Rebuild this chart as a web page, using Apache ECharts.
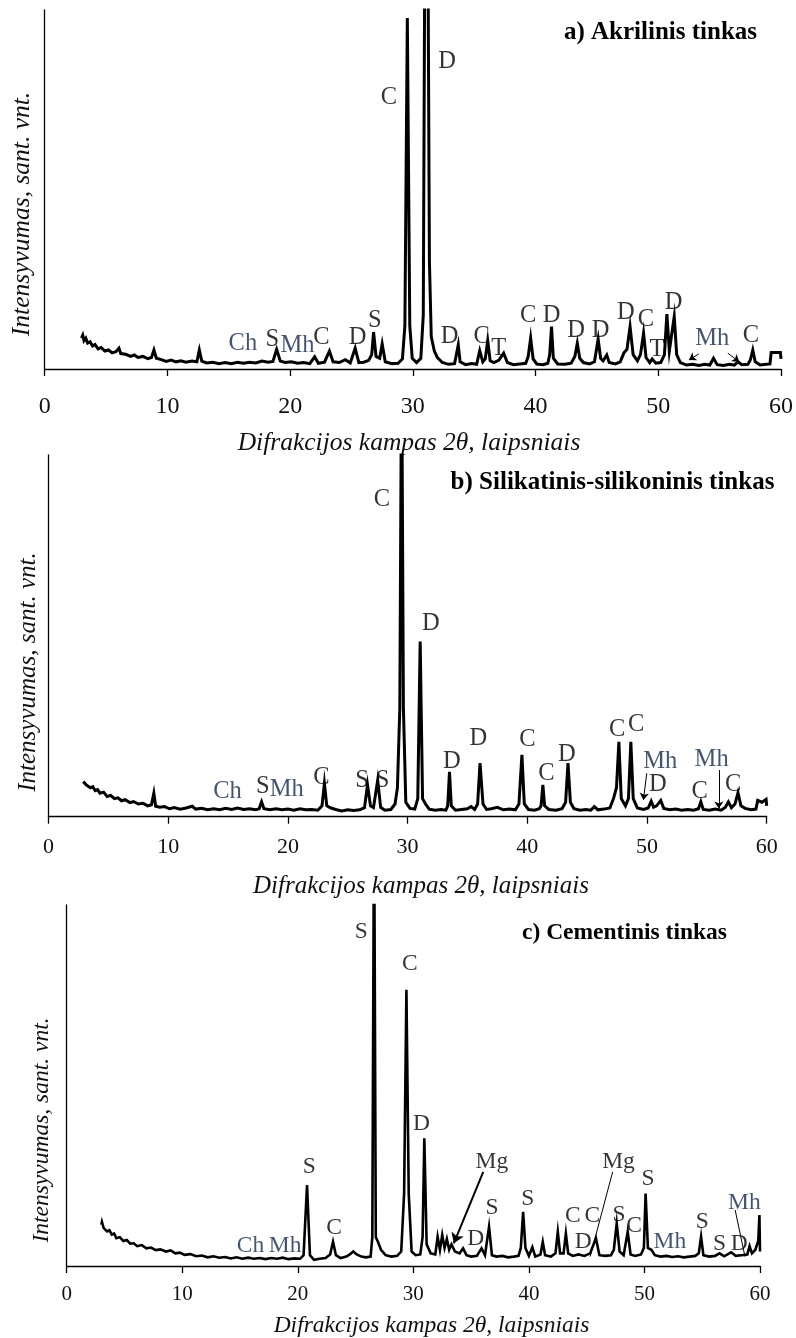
<!DOCTYPE html>
<html>
<head>
<meta charset="utf-8">
<script src="https://cdn.jsdelivr.net/npm/echarts@6.0.0/dist/echarts.min.js"></script>
<style>
html,body{margin:0;padding:0;background:#fff}
#chart{width:796px;height:1338px}
</style>
</head>
<body>
<div id="chart"></div>
<script>
// X-ray diffraction patterns of three plaster types, 2θ (deg) vs relative intensity (0–100 = plot height)
const angleTicks = [0, 10, 20, 30, 40, 50, 60];

const panelTitles = ['a) Akrilinis tinkas', 'b) Silikatinis-silikoninis tinkas', 'c) Cementinis tinkas'];
const xTitle = 'Difrakcijos kampas 2θ, laipsniais';
const yTitle = 'Intensyvumas, sant. vnt.';

// a) acrylic plaster
const traceA = [[3.0,8.6],[3.1,9.4],[3.2,7.9],[3.35,8.6],[3.5,7.2],[3.7,7.6],[3.9,6.4],[4.1,6.8],[4.35,5.6],[4.6,6.0],[4.9,5.0],[5.2,5.3],[5.5,4.5],[5.8,4.8],[6.05,5.8],[6.2,4.3],[6.6,4.1],[7.0,3.5],[7.3,3.9],[7.6,3.2],[8.0,3.5],[8.4,2.9],[8.7,3.2],[8.9,5.3],[9.1,3.0],[9.5,2.6],[9.9,2.1],[10.3,2.5],[10.7,2.0],[11.1,2.3],[11.5,1.9],[12.0,2.2],[12.4,2.0],[12.6,5.3],[12.8,2.2],[13.2,1.7],[13.7,1.9],[14.2,1.5],[14.7,1.8],[15.2,1.5],[15.7,1.9],[16.2,1.6],[16.7,1.9],[17.2,1.7],[17.7,2.2],[18.2,1.9],[18.6,2.1],[18.9,5.5],[19.2,2.2],[19.6,1.8],[20.1,2.0],[20.6,1.6],[21.1,1.8],[21.6,1.5],[22.0,3.4],[22.3,1.6],[22.8,1.9],[23.2,5.0],[23.5,2.0],[24.0,1.8],[24.5,2.6],[24.9,1.7],[25.3,5.8],[25.6,1.8],[26.0,1.9],[26.4,2.4],[26.65,4],[26.8,10.3],[27.0,3.5],[27.3,3],[27.5,7.0],[27.75,2.0],[28.3,1.5],[28.8,1.6],[29.15,2.8],[29.35,12],[29.55,97.8],[29.75,12],[29.95,3],[30.3,1.8],[30.65,3.0],[30.85,15],[31.0,140],[31.2,140],[31.35,30],[31.5,9],[31.75,5],[32.0,3.2],[32.4,1.8],[32.9,1.3],[33.4,1.5],[33.55,2.0],[33.7,6.7],[33.85,2.0],[34.3,1.2],[34.8,1.5],[35.2,1.3],[35.45,5.1],[35.7,2.0],[35.9,2.8],[36.1,7.9],[36.3,2.3],[36.6,1.8],[37.0,2.4],[37.4,4.4],[37.7,1.8],[38.2,1.2],[38.7,1.4],[39.2,1.6],[39.4,3.5],[39.6,8.6],[39.8,2.8],[40.1,1.4],[40.6,1.2],[41.0,1.6],[41.15,4],[41.3,11.8],[41.45,3],[41.8,1.4],[42.4,1.3],[42.9,1.6],[43.2,3.5],[43.4,7.2],[43.6,3.0],[43.9,1.8],[44.4,1.4],[44.8,2.0],[45.1,8.3],[45.3,3.0],[45.5,2.3],[45.8,3.9],[46.0,1.8],[46.5,1.4],[46.9,2.0],[47.2,4.5],[47.45,5.5],[47.7,11.8],[47.95,4],[48.3,2.3],[48.55,4],[48.8,10],[49.0,3.2],[49.3,1.8],[49.5,2.8],[49.8,1.6],[50.2,1.8],[50.5,4],[50.7,15.3],[50.9,5],[51.05,5],[51.3,14.6],[51.5,4],[51.8,1.8],[52.3,1.1],[52.8,1.3],[53.3,1.0],[53.8,1.3],[54.2,1.1],[54.5,3.0],[54.8,1.2],[55.3,1.0],[55.8,1.3],[56.2,1.1],[56.5,2.0],[56.8,1.2],[57.3,1.3],[57.5,2.5],[57.7,5.3],[57.9,2.0],[58.3,1.1],[58.8,1.3],[59.1,1.4],[59.2,4.6],[59.95,4.6],[60,2.8]];
const tagsA = [['Ch',16.15,7.0],['S',18.55,8.1],['Mh',20.6,6.4],['C',22.55,8.8],['D',25.5,8.8],['S',26.9,13.6],['C',28.05,75.5],['D',32.8,85.7],['D',33.0,9.0],['C',35.6,9.0],['T',37.0,5.6],['C',39.4,15],['D',41.3,15],['D',43.3,10.6],['D',45.3,10.6],['D',47.35,15.6],['C',49.0,13.9],['T',49.9,5.3],['D',51.25,18.4],['Mh',54.4,8.6],['C',57.55,9.2]];
const leadersA = [[53.3,4.2,52.5,2.5],[55.67,4.4,56.6,2.0]];

// b) silicate-silicone plaster
const traceB = [[2.9,9.7],[3.0,10.2],[3.15,8.8],[3.3,9.2],[3.5,8.0],[3.7,8.3],[3.9,7.2],[4.1,7.5],[4.3,6.5],[4.6,6.8],[4.9,5.6],[5.2,5.9],[5.5,5.0],[5.8,5.2],[6.1,4.4],[6.4,4.7],[6.8,3.9],[7.1,4.2],[7.5,3.5],[7.9,3.7],[8.3,3.0],[8.6,3.3],[8.8,6.5],[8.95,2.9],[9.3,2.6],[9.7,2.8],[10.1,2.2],[10.5,2.5],[11.0,2.1],[11.5,2.4],[12.0,2.9],[12.3,2.1],[12.8,2.3],[13.3,1.9],[13.8,2.2],[14.3,1.9],[14.8,2.3],[15.3,2.0],[15.8,2.4],[16.3,2.0],[16.8,2.2],[17.3,1.9],[17.6,2.2],[17.8,4.1],[18.0,2.2],[18.5,1.9],[19.0,2.2],[19.5,1.9],[20.0,2.1],[20.5,1.8],[21.0,2.2],[21.5,1.9],[22.0,2.0],[22.5,1.8],[22.85,3],[23.05,9.2],[23.25,3],[23.6,2.4],[24.0,2.0],[24.5,1.6],[25.0,1.9],[25.5,1.7],[26.0,1.9],[26.4,2.5],[26.65,8.8],[26.9,3],[27.15,2.5],[27.5,10.1],[27.75,2.6],[28.1,1.8],[28.6,2.0],[28.95,3.5],[29.15,8],[29.35,30],[29.5,130],[29.65,30],[29.85,4],[30.2,2.3],[30.6,2.1],[30.85,5],[31.05,48.4],[31.25,5],[31.5,3.5],[31.8,2.1],[32.3,1.8],[32.8,2.0],[33.2,1.8],[33.35,3],[33.5,12.4],[33.65,3],[34.0,1.8],[34.5,2.0],[35.0,2.2],[35.3,2.8],[35.6,2.0],[35.85,3.5],[36.05,14.8],[36.3,3.5],[36.6,2.0],[37.0,2.2],[37.5,2.6],[38.0,1.9],[38.5,2.1],[39.0,1.9],[39.3,3.5],[39.55,17.1],[39.75,3.5],[40.1,2.0],[40.6,1.8],[41.0,2.2],[41.15,3],[41.3,8.8],[41.45,3],[41.8,2.0],[42.4,1.8],[42.9,2.2],[43.2,4],[43.4,14.8],[43.6,4],[43.9,2.2],[44.4,1.8],[44.9,2.0],[45.3,1.8],[45.6,2.8],[45.9,1.9],[46.4,2.1],[46.9,2.4],[47.2,5],[47.45,8],[47.65,20.7],[47.85,5],[48.2,3],[48.45,5],[48.65,20.7],[48.85,5],[49.2,2.4],[49.7,2.0],[50.1,2.4],[50.35,4.3],[50.55,2.6],[50.8,3.0],[51.15,4.5],[51.4,2.3],[51.9,1.9],[52.4,2.1],[52.9,1.8],[53.4,2.0],[53.9,1.8],[54.3,2.2],[54.5,4.1],[54.7,2.0],[55.2,1.8],[55.7,2.1],[56.2,1.8],[56.55,2.6],[56.8,4.1],[57.05,2.5],[57.35,3.5],[57.6,6.6],[57.85,3.0],[58.2,2.3],[58.7,1.9],[59.1,2.1],[59.25,4.5],[59.6,4.0],[59.95,4.8],[60,3.0]];
const tagsB = [['Ch',14.95,6.9],['S',17.9,8.3],['Mh',19.9,7.4],['C',22.8,10.8],['S',26.2,9.9],['S',27.9,9.9],['C',27.85,87.6],['D',31.95,53.5],['D',33.7,15.2],['D',35.9,21.7],['C',40.0,21.2],['C',41.6,12.0],['D',43.3,17.1],['C',47.5,24.0],['C',49.1,25.4],['Mh',51.1,15.2],['D',50.9,8.8],['C',54.4,6.9],['Mh',55.4,15.8],['C',57.2,8.8]];
const leadersB = [[49.98,12,49.7,4.6],[56.0,12.9,56.0,2.3]];

// c) cement plaster
const traceC = [[3.0,11.4],[3.05,12.2],[3.2,10.5],[3.35,10.9],[3.5,9.6],[3.7,9.9],[3.9,8.7],[4.1,9.0],[4.3,7.7],[4.6,8.0],[4.9,6.9],[5.2,7.2],[5.5,6.2],[5.8,6.3],[6.1,5.5],[6.5,5.8],[6.9,4.9],[7.3,5.1],[7.7,4.4],[8.1,4.6],[8.6,4.0],[9.0,4.3],[9.4,3.5],[9.8,3.7],[10.2,3.1],[10.7,3.3],[11.2,2.7],[11.7,2.9],[12.2,2.4],[12.7,2.7],[13.2,2.3],[13.7,2.5],[14.2,2.1],[14.7,2.4],[15.2,2.0],[15.7,2.3],[16.2,2.0],[16.7,2.2],[17.2,1.9],[17.7,2.2],[18.2,2.0],[18.7,2.3],[19.2,1.9],[19.7,2.1],[20.2,2.0],[20.5,3],[20.8,22.4],[21.05,3],[21.4,1.7],[21.9,2.0],[22.4,2.2],[22.8,3.2],[23.05,6.7],[23.3,3.0],[23.7,2.2],[24.2,2.6],[24.5,3.2],[24.8,4.0],[25.1,3.2],[25.5,2.6],[25.9,2.4],[26.3,2.6],[26.45,8],[26.6,130],[26.75,8],[26.95,6.6],[27.2,4.5],[27.6,3.0],[28.1,2.6],[28.6,2.8],[28.95,4],[29.2,20],[29.4,76.5],[29.6,20],[29.85,4],[30.2,3.0],[30.6,3.2],[30.8,8],[30.95,35.4],[31.15,6],[31.5,3.5],[31.9,3.2],[32.1,8.1],[32.3,4.5],[32.5,8.6],[32.7,5],[32.9,7.5],[33.1,4.5],[33.3,6.0],[33.6,4.0],[34.0,3.5],[34.3,4.9],[34.6,3.0],[35.0,2.6],[35.5,2.8],[35.9,4.9],[36.2,3.0],[36.55,10.9],[36.8,3.0],[37.2,2.6],[37.7,2.8],[38.2,2.4],[38.7,2.6],[39.1,2.8],[39.3,5],[39.5,15],[39.7,5],[40.0,2.8],[40.3,5.2],[40.55,2.6],[41.0,3.2],[41.2,6.7],[41.4,3.0],[41.9,2.6],[42.3,3.5],[42.5,9.5],[42.7,3.5],[43.0,3.5],[43.2,9.0],[43.4,3.5],[43.8,2.8],[44.3,3.2],[44.8,2.8],[45.3,3.5],[45.8,7.7],[46.1,3.0],[46.6,2.8],[47.1,3.0],[47.35,4.5],[47.6,11.8],[47.85,4],[48.2,3.0],[48.55,9.5],[48.8,3.2],[49.2,2.8],[49.7,3.2],[49.95,5],[50.1,20.1],[50.3,5],[50.6,4.5],[50.9,3.0],[51.4,2.6],[51.9,2.8],[52.4,2.5],[52.9,2.7],[53.4,2.4],[53.9,2.6],[54.4,2.8],[54.7,3.5],[54.9,8.1],[55.1,3.0],[55.6,2.6],[56.1,2.8],[56.5,3.5],[56.9,2.7],[57.5,3.8],[57.9,2.8],[58.4,3.0],[58.9,3.2],[59.1,5.5],[59.3,3.5],[59.6,4.5],[59.85,7],[59.95,14.1],[60,4]];
const tagsC = [['S',25.5,92.6],['S',21.0,27.5],['C',23.15,10.7],['Ch',15.9,5.6],['Mh',18.9,5.6],['C',29.7,83.7],['D',30.7,39.3],['Mg',36.8,28.9],['D',35.4,7.5],['S',36.8,16.2],['S',39.9,18.6],['C',43.8,13.9],['C',45.5,13.9],['D',44.7,6.7],['Mg',47.75,28.9],['S',47.8,14.3],['C',49.1,11.1],['S',50.3,24.1],['Mh',52.2,6.7],['S',55.0,12.3],['S',56.5,6.1],['D',58.2,6.1],['Mh',58.65,17.6]];
const leadersC = [[36.05,26.1,33.5,6.3],[47.25,26.1,45.3,2.6],[57.85,15.5,58.7,2.6]];

const SERIF = 'Liberation Serif, Times New Roman, serif';
const NAVY = '#14284c';

// layout of the three stacked panels
const panels = [
  { trace: traceA, tags: tagsA, leaders: leadersA,
    grid: { left: 44.7, top: 10, width: 737, height: 359 },
    lineW: 3, tickFont: 24, labelMargin: 26, tagFont: 24.5,
    leaderStyle: [{ head: true, w: 1 }, { head: true, w: 1 }],
    title: { x: 660.5, y: 33, size: 25 }, xName: { x: 409, y: 443, size: 25.5 }, yName: { x: 22, y: 214, size: 25.5 } },
  { trace: traceB, tags: tagsB, leaders: leadersB,
    grid: { left: 48.5, top: 455, width: 718.2, height: 361.7 },
    lineW: 3, tickFont: 22, labelMargin: 20, tagFont: 24.5,
    leaderStyle: [{ head: true, w: 1 }, { head: true, w: 1 }],
    title: { x: 612.5, y: 483, size: 25 }, xName: { x: 421, y: 886, size: 25 }, yName: { x: 28, y: 672, size: 25 } },
  { trace: traceC, tags: tagsC, leaders: leadersC,
    grid: { left: 66.7, top: 905, width: 693.3, height: 361 },
    lineW: 2.6, tickFont: 21, labelMargin: 18, tagFont: 23.5,
    leaderStyle: [{ head: true, w: 2 }, { head: false, w: 1 }, { head: false, w: 1 }],
    title: { x: 624.5, y: 933, size: 23.5 }, xName: { x: 431.5, y: 1326, size: 23.5 }, yName: { x: 42, y: 1130, size: 23.5 } }
];

const grids = [], xAxes = [], yAxes = [], series = [], graphics = [];

panels.forEach((p, i) => {
  grids.push(p.grid);
  xAxes.push({
    type: 'value', gridIndex: i,
    min: angleTicks[0], max: angleTicks[angleTicks.length - 1],
    interval: angleTicks[1] - angleTicks[0],
    axisLine: { show: true, onZero: false, lineStyle: { color: '#000', width: 1.3 } },
    axisTick: { show: true, inside: false, length: 7, lineStyle: { color: '#000', width: 1.3 } },
    axisLabel: { show: true, margin: p.labelMargin, color: '#111', fontFamily: SERIF, fontSize: p.tickFont },
    splitLine: { show: false }
  });
  yAxes.push({
    type: 'value', gridIndex: i, min: 0, max: 100,
    axisLine: { show: true, lineStyle: { color: '#000', width: 1.3 } },
    axisTick: { show: false }, axisLabel: { show: false }, splitLine: { show: false }
  });

  series.push({
    type: 'line', xAxisIndex: i, yAxisIndex: i,
    data: p.trace, showSymbol: false, symbol: 'none', clip: true,
    lineStyle: { color: '#000', width: p.lineW, join: 'miter' },
    silent: true, z: 3,
    markLine: {
      silent: true, animation: false,
      label: { show: false },
      data: p.leaders.map((l, k) => {
        const st = p.leaderStyle[k];
        return [
          { coord: [l[0], l[1]], symbol: 'none',
            lineStyle: { color: '#000', width: st.w, type: 'solid' } },
          { coord: [l[2], l[3]], symbol: st.head ? 'arrow' : 'none', symbolSize: st.w > 1 ? 10 : 7 }
        ];
      })
    }
  });

  series.push({
    type: 'scatter', xAxisIndex: i, yAxisIndex: i,
    symbolSize: 1, itemStyle: { color: 'rgba(0,0,0,0)' }, silent: true, z: 4,
    data: p.tags.map(t => ({
      value: [t[1], t[2]], name: t[0],
      label: { color: (t[0] === 'Ch' || t[0] === 'Mh') ? NAVY : '#000' }
    })),
    label: { show: true, position: 'inside', formatter: '{b}', fontFamily: SERIF, fontSize: p.tagFont }
  });

  graphics.push({
    type: 'text', x: p.title.x, y: p.title.y,
    style: { text: panelTitles[i], font: `bold ${p.title.size}px ${SERIF}`, fill: '#000', align: 'center', verticalAlign: 'middle' }
  });
  graphics.push({
    type: 'text', x: p.xName.x, y: p.xName.y,
    style: { text: xTitle, font: `italic ${p.xName.size}px ${SERIF}`, fill: '#111', align: 'center', verticalAlign: 'middle' }
  });
  graphics.push({
    type: 'text', x: p.yName.x, y: p.yName.y, rotation: Math.PI / 2,
    style: { text: yTitle, font: `italic ${p.yName.size}px ${SERIF}`, fill: '#111', align: 'center', verticalAlign: 'middle' }
  });
});

const chart = echarts.init(document.getElementById('chart'), null, { renderer: 'canvas' });
chart.setOption({
  backgroundColor: '#fff',
  animation: false,
  grid: grids,
  xAxis: xAxes,
  yAxis: yAxes,
  series: series,
  graphic: graphics
});
</script>
</body>
</html>
